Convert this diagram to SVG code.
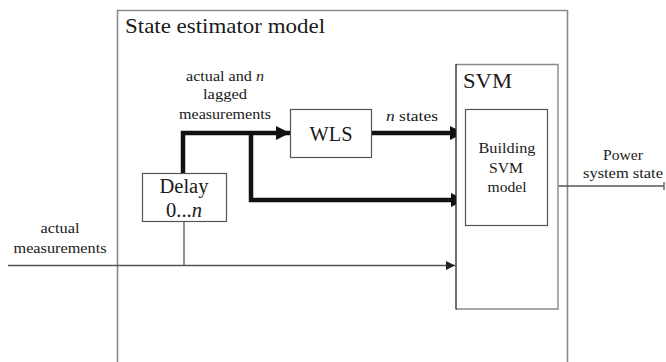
<svg xmlns="http://www.w3.org/2000/svg" width="666" height="362" viewBox="0 0 666 362">
  <style>
    .serif { font-family: "Liberation Serif", "DejaVu Serif", serif; fill: #1a1a1a; }
    .frame { fill: none; stroke: #8a8a8a; stroke-width: 1.6; }
    .box { fill: #ffffff; stroke: #555555; stroke-width: 1.2; }
    .thin { fill: none; stroke: #555555; stroke-width: 1.3; }
    .thick { fill: none; stroke: #111111; stroke-width: 4.5; }
    .lbl { font-size: 15px; text-anchor: middle; }
    .big { font-size: 21px; }
  </style>
  <defs>
    <marker id="headBig" viewBox="0 0 14 14" refX="14" refY="7" markerUnits="userSpaceOnUse" markerWidth="14" markerHeight="15" orient="auto">
      <path d="M0,0 L14,7 L0,14 Z" fill="#111111"/>
    </marker>
    <marker id="headSmall" viewBox="0 0 10 10" refX="10" refY="5" markerUnits="userSpaceOnUse" markerWidth="9" markerHeight="9" orient="auto">
      <path d="M0,0 L10,5 L0,10 Z" fill="#222222"/>
    </marker>
  </defs>

  <rect width="666" height="362" fill="#ffffff"/>

  <!-- Outer frame: open at the bottom -->
  <g id="estimator">
    <path class="frame" d="M117.5,362 V10.5 H567.5 V362"/>
    <text class="serif big" x="125" y="33" textLength="200" lengthAdjust="spacingAndGlyphs">State estimator model</text>
  </g>

  <!-- Connectors -->
  <g id="connectors">
    <!-- actual measurements into SVM, with tap to the delay block -->
    <line class="thin" x1="8" y1="265.5" x2="455" y2="265.5" marker-end="url(#headSmall)"/>
    <line class="thin" x1="184" y1="222" x2="184" y2="265.5"/>
    <!-- delayed measurements to WLS -->
    <path class="thick" d="M183,173 V133 H290" marker-end="url(#headBig)"/>
    <!-- branch of delayed measurements straight to SVM -->
    <path class="thick" d="M251,133 V200 H465" marker-end="url(#headBig)"/>
    <!-- WLS states to SVM -->
    <line class="thick" x1="372" y1="133" x2="464" y2="133" marker-end="url(#headBig)"/>
    <!-- SVM output -->
    <line class="thin" x1="548" y1="186" x2="664" y2="186"/>
    <line class="thin" x1="664" y1="182" x2="664" y2="190"/>
  </g>

  <!-- Connector labels -->
  <g id="labels">
    <text class="serif lbl" x="225" y="81" textLength="78" lengthAdjust="spacingAndGlyphs">actual and <tspan font-style="italic">n</tspan></text>
    <text class="serif lbl" x="225" y="99" textLength="44" lengthAdjust="spacingAndGlyphs">lagged</text>
    <text class="serif lbl" x="225" y="119" textLength="92" lengthAdjust="spacingAndGlyphs">measurements</text>
    <text class="serif lbl" x="412" y="121" textLength="52" lengthAdjust="spacingAndGlyphs"><tspan font-style="italic">n</tspan> states</text>
    <text class="serif lbl" x="60" y="233" textLength="39" lengthAdjust="spacingAndGlyphs">actual</text>
    <text class="serif lbl" x="60" y="253" textLength="93" lengthAdjust="spacingAndGlyphs">measurements</text>
    <text class="serif lbl" x="623" y="160" textLength="40" lengthAdjust="spacingAndGlyphs">Power</text>
    <text class="serif lbl" x="623" y="178" textLength="80" lengthAdjust="spacingAndGlyphs">system state</text>
  </g>

  <g id="delay">
    <rect class="box" x="142.5" y="173.5" width="84" height="48"/>
    <text class="serif" font-size="20" text-anchor="middle" x="184" y="193" textLength="49" lengthAdjust="spacingAndGlyphs">Delay</text>
    <text class="serif" font-size="20" text-anchor="middle" x="184" y="217" textLength="36" lengthAdjust="spacingAndGlyphs">0...<tspan font-style="italic">n</tspan></text>
  </g>

  <g id="wls">
    <rect class="box" x="290.5" y="109.5" width="81" height="48"/>
    <text class="serif big" text-anchor="middle" x="331" y="141" textLength="43" lengthAdjust="spacingAndGlyphs">WLS</text>
  </g>

  <g id="svm">
    <path d="M456,64.5 H558 V309 H456" fill="#ffffff" stroke="#8a8a8a" stroke-width="1.4"/>
    <line x1="456" y1="64" x2="456" y2="309.5" stroke="#222222" stroke-width="1.3"/>
    <text class="serif big" x="463" y="88" textLength="49" lengthAdjust="spacingAndGlyphs">SVM</text>
  </g>

  <g id="svm-model">
    <rect class="box" x="465.5" y="109.5" width="82" height="116"/>
    <text class="serif" font-size="15" text-anchor="middle" x="507" y="153" textLength="57" lengthAdjust="spacingAndGlyphs">Building</text>
    <text class="serif" font-size="15" text-anchor="middle" x="506" y="173" textLength="34" lengthAdjust="spacingAndGlyphs">SVM</text>
    <text class="serif" font-size="15" text-anchor="middle" x="507" y="192" textLength="39" lengthAdjust="spacingAndGlyphs">model</text>
  </g>
</svg>
